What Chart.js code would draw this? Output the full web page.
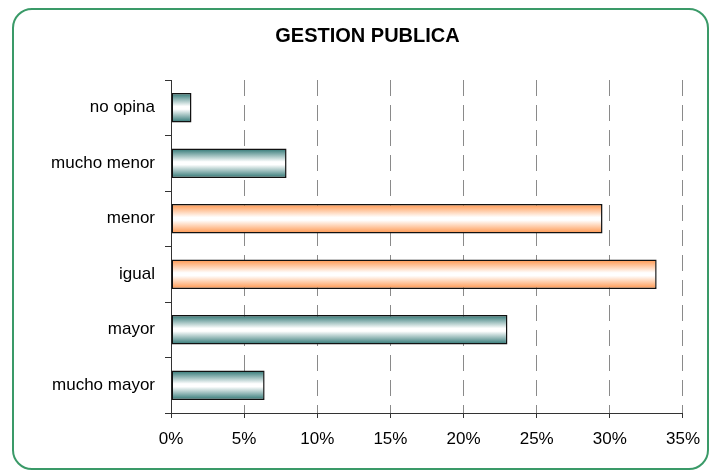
<!DOCTYPE html>
<html>
<head>
<meta charset="utf-8">
<script src="https://cdn.jsdelivr.net/npm/chart.js@4/dist/chart.umd.min.js"></script>
<style>
  html, body { margin: 0; padding: 0; background: #fff; }
  #wrap { position: relative; width: 711px; height: 473px; }
  #frame { position: absolute; left: 12px; top: 8px; width: 697px; height: 462px;
           border: 2px solid #3a9a68; border-radius: 20px; box-sizing: border-box; }
  canvas { position: absolute; left: 0; top: 0; }
</style>
</head>
<body>
<div id="wrap">
  <div id="frame"></div>
  <canvas id="barchart" width="711" height="473"></canvas>
</div>
<script>
// gestion publica bar chart
var categories = ["no opina", "mucho menor", "menor", "igual", "mayor", "mucho mayor"];
var values = [1.4, 7.9, 29.5, 33.2, 23.0, 6.4];
var highlight = [false, false, true, true, false, false];
var xTicks = [0, 5, 10, 15, 20, 25, 30, 35];

var barShare = 0.53;

function barFill(context) {
    var chart = context.chart;
    var y = chart.scales.y;
    var edge = highlight[context.dataIndex] ? "#ff944a" : "#2c7472";
    if (!y || context.dataIndex === undefined) return edge;
    var mid = y.getPixelForValue(context.dataIndex);
    var half = (y.height / categories.length) * barShare / 2;
    if (!isFinite(mid) || !isFinite(half) || half <= 0) return edge;
    var g = chart.ctx.createLinearGradient(0, mid - half, 0, mid + half);
    g.addColorStop(0, edge);
    g.addColorStop(0.45, "#ffffff");
    g.addColorStop(0.55, "#ffffff");
    g.addColorStop(1, edge);
    return g;
}

const ctx = document.getElementById("barchart").getContext("2d");

const config = {
    type: "bar",
    data: {
        labels: categories,
        datasets: [{
            data: values,
            backgroundColor: barFill,
            borderColor: "#111111",
            borderWidth: 1.5,
            borderSkipped: false,
            barPercentage: barShare,
            categoryPercentage: 1
        }]
    },
    options: {
        indexAxis: "y",
        responsive: false,
        animation: false,
        layout: { padding: { left: 52, right: 28 } },
        scales: {
            x: {
                min: 0,
                max: 35,
                afterBuildTicks: function(scale) {
                    scale.ticks = xTicks.map(v => ({ value: v }));
                },
                afterFit: function(scale) { scale.height = 60; },
                grid: {
                    color: "#8a8a8a",
                    lineWidth: 1,
                    tickLength: 5,
                    tickColor: "#333333",
                    tickBorderDash: []
                },
                border: { display: true, color: "#333333", width: 1, dash: [16, 9] },
                ticks: {
                    color: "#000",
                    padding: 11,
                    font: { family: "Liberation Sans", size: 17 },
                    callback: v => v + "%"
                }
            },
            y: {
                afterFit: function(scale) { scale.width = 119; },
                grid: {
                    offset: true,
                    drawOnChartArea: false,
                    tickLength: 6,
                    tickColor: "#333333"
                },
                border: { display: true, color: "#333333", width: 1 },
                ticks: {
                    color: "#000",
                    padding: 10,
                    font: { family: "Liberation Sans", size: 17 }
                }
            }
        },
        plugins: {
            legend: { display: false },
            tooltip: { enabled: false },
            title: {
                display: true,
                text: "GESTION PUBLICA",
                color: "#000",
                font: { family: "Liberation Sans", size: 20, weight: "bold", lineHeight: 1.2 },
                padding: { top: 24, bottom: 32 }
            }
        }
    }
};

var barChart = new Chart(ctx, config);
</script>
</body>
</html>
